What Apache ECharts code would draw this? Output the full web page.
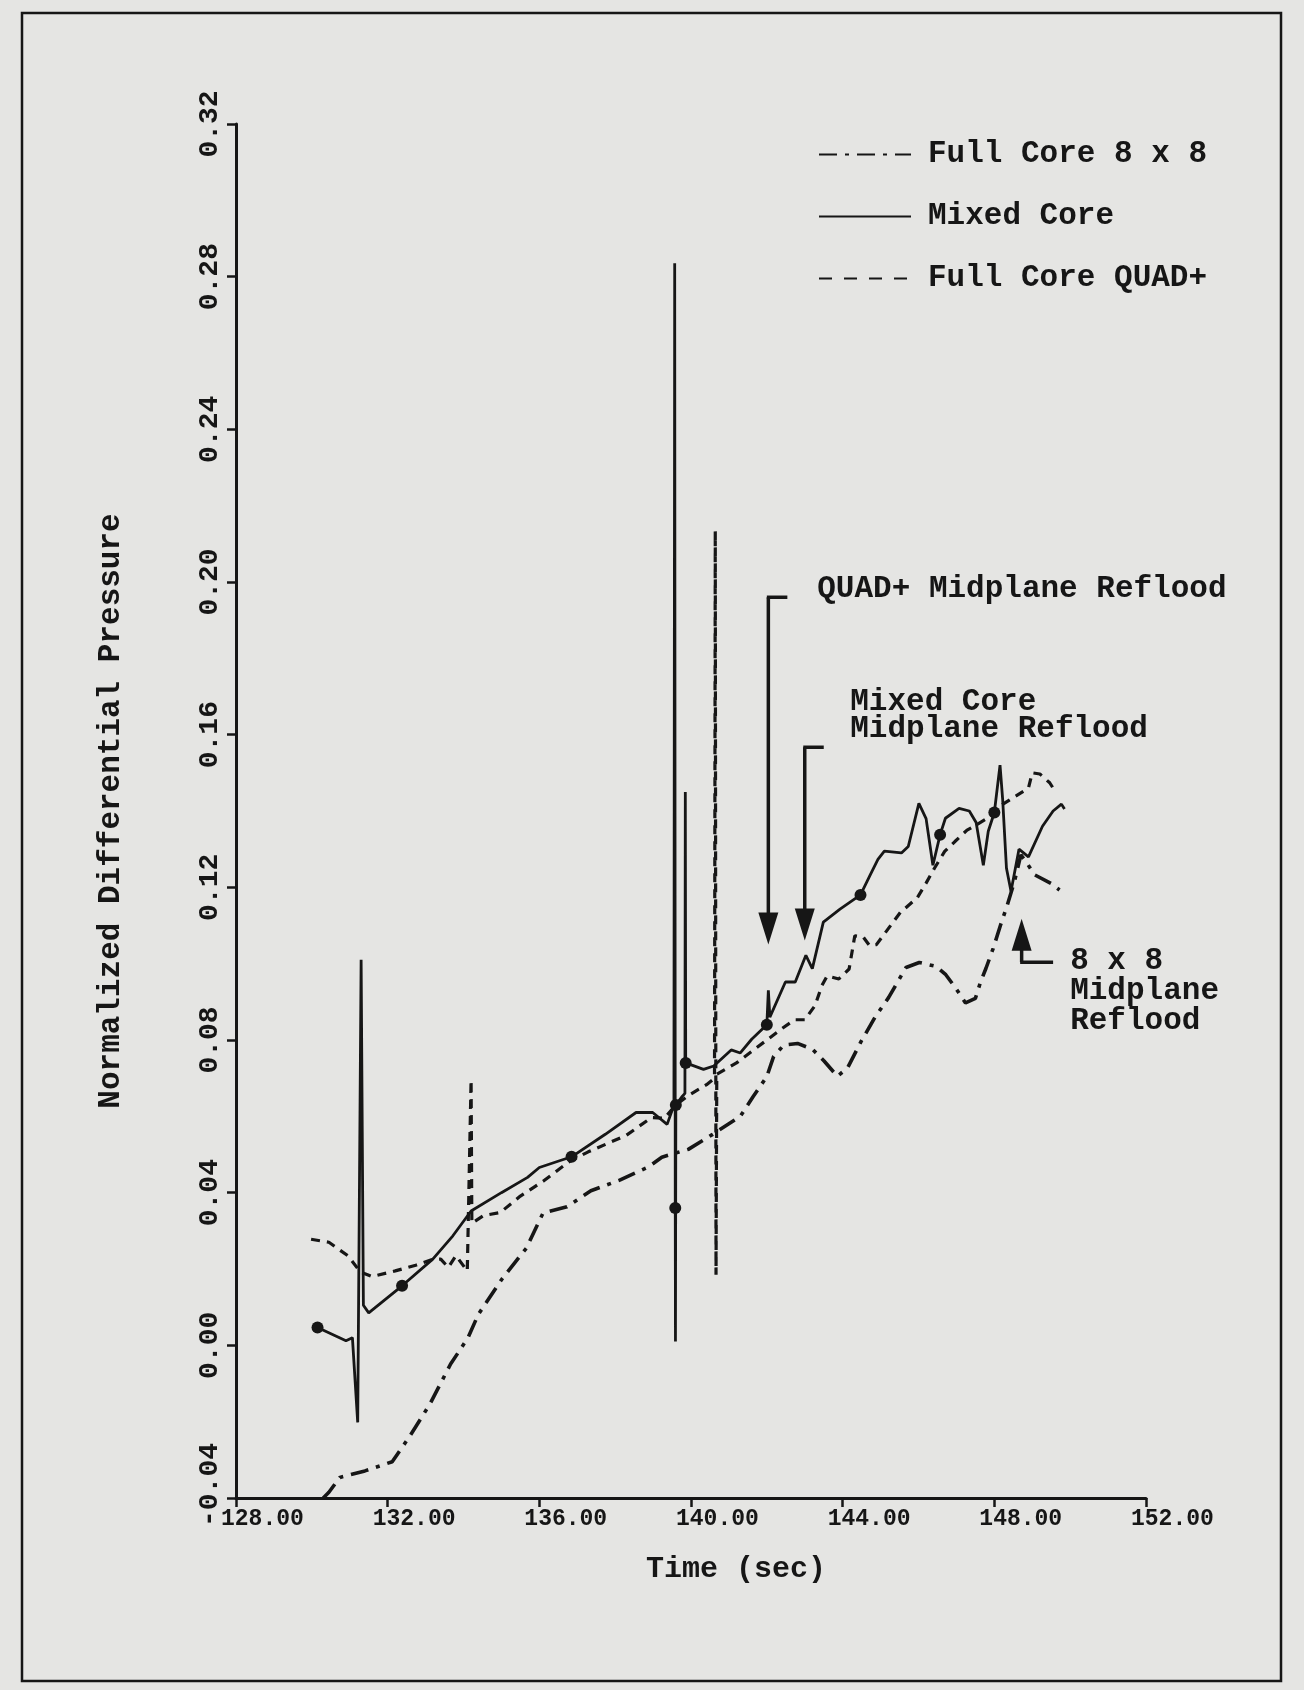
<!DOCTYPE html>
<html>
<head>
<meta charset="utf-8">
<script src="https://cdn.jsdelivr.net/npm/echarts@6/dist/echarts.min.js"></script>
<style>
  html, body { margin: 0; padding: 0; background: #e5e5e3; }
  #chart { width: 1304px; height: 1690px; }
</style>
</head>
<body>
<div id="chart"></div>
<script>
// Axis ticks
const xTicks = [128, 132, 136, 140, 144, 148, 152];
const yTicks = [-0.04, 0.00, 0.04, 0.08, 0.12, 0.16, 0.20, 0.24, 0.28, 0.32];

const seriesNames = ['Full Core 8 x 8', 'Mixed Core', 'Full Core QUAD+'];

// [time (sec), normalized differential pressure]
const fullCore8x8 = [
  [130.30, -0.0400], [130.45, -0.0385], [130.74, -0.0346], [131.40, -0.0329], [132.12, -0.0305],
  [132.57, -0.0240], [133.12, -0.0153], [133.66, -0.0049], [134.12, 0.0020], [134.39, 0.0081],
  [134.60, 0.0112], [135.03, 0.0176], [135.66, 0.0255], [136.10, 0.0347], [136.73, 0.0363],
  [137.36, 0.0405], [138.12, 0.0433], [138.87, 0.0467], [139.23, 0.0493], [139.94, 0.0514],
  [140.56, 0.0552], [141.30, 0.0600], [141.64, 0.0652], [142.00, 0.0704], [142.18, 0.0757],
  [142.45, 0.0787], [142.81, 0.0791], [143.20, 0.0776], [143.51, 0.0745], [143.86, 0.0705],
  [144.13, 0.0727], [144.49, 0.0797], [144.85, 0.0859], [145.21, 0.0911], [145.67, 0.0990],
  [146.02, 0.1003], [146.46, 0.0993], [146.72, 0.0971], [146.98, 0.0936], [147.24, 0.0897],
  [147.50, 0.0909], [147.64, 0.0953], [147.78, 0.0988], [147.97, 0.1040], [148.16, 0.1100],
  [148.34, 0.1153], [148.53, 0.1215], [148.70, 0.1285], [148.85, 0.1265], [149.06, 0.1233],
  [149.50, 0.1210], [149.72, 0.1193]
];

const mixedCore = [
  [130.15, 0.0047], [130.90, 0.0012], [131.07, 0.0020], [131.21, -0.0202], [131.30, 0.1010],
  [131.36, 0.0105], [131.50, 0.0085], [132.38, 0.0156], [133.19, 0.0226], [133.72, 0.0287],
  [134.20, 0.0352], [135.00, 0.0400], [135.69, 0.0440], [136.00, 0.0466], [136.85, 0.0494],
  [137.74, 0.0553], [138.55, 0.0610], [138.99, 0.0610], [139.37, 0.0579], [139.50, 0.0615],
  [139.55, 0.0630], [139.57, 0.2835], [139.585, 0.0360], [139.59, 0.0010], [139.60, 0.0630],
  [139.75, 0.0650], [139.84, 0.0660], [139.85, 0.1450], [139.86, 0.0740], [140.33, 0.0723],
  [140.60, 0.0732], [141.06, 0.0774], [141.30, 0.0766], [141.60, 0.0802], [142.00, 0.0840],
  [142.04, 0.0930], [142.08, 0.0860], [142.49, 0.0952], [142.75, 0.0952], [143.03, 0.1022],
  [143.20, 0.0987], [143.49, 0.1109], [143.93, 0.1143], [144.47, 0.1180], [144.74, 0.1235],
  [144.93, 0.1273], [145.10, 0.1295], [145.55, 0.1290], [145.73, 0.1307], [146.01, 0.1420],
  [146.20, 0.1380], [146.38, 0.1258], [146.57, 0.1338], [146.71, 0.1381], [147.07, 0.1407],
  [147.34, 0.1400], [147.52, 0.1370], [147.71, 0.1258], [147.84, 0.1347], [148.00, 0.1396],
  [148.15, 0.1520], [148.22, 0.1430], [148.32, 0.1250], [148.44, 0.1190], [148.65, 0.1300],
  [148.90, 0.1280], [149.27, 0.1360], [149.55, 0.1400], [149.77, 0.1418], [149.85, 0.1405]
];
// plotted points of the mixed-core trace that carry a dot
const mixedMarkerTimes = [130.15, 132.38, 136.85, 139.585, 139.60, 139.86, 142.00, 144.47, 146.57, 148.00];

const fullCoreQuad = [
  [129.98, 0.0278], [130.45, 0.0270], [130.96, 0.0234], [131.28, 0.0192], [131.59, 0.0180],
  [132.20, 0.0195], [132.74, 0.0210], [133.20, 0.0226], [133.40, 0.0226], [133.60, 0.0204],
  [133.80, 0.0235], [134.10, 0.0195], [134.20, 0.0695], [134.22, 0.0320], [134.53, 0.0340],
  [134.97, 0.0348], [135.50, 0.0391], [136.10, 0.0430], [136.77, 0.0480], [137.29, 0.0507],
  [138.29, 0.0550], [138.96, 0.0597], [139.30, 0.0595], [139.60, 0.0630], [139.97, 0.0657],
  [140.41, 0.0683], [140.62, 0.0700], [140.64, 0.2134], [140.66, 0.0185], [140.68, 0.0710],
  [141.20, 0.0740], [141.60, 0.0770], [142.00, 0.0800], [142.40, 0.0830], [142.73, 0.0853],
  [143.00, 0.0853], [143.27, 0.0890], [143.45, 0.0942], [143.59, 0.0968], [143.90, 0.0960],
  [144.17, 0.0986], [144.32, 0.1073], [144.54, 0.1070], [144.71, 0.1047], [144.89, 0.1050],
  [145.16, 0.1086], [145.52, 0.1134], [145.97, 0.1173], [146.20, 0.1211], [146.42, 0.1250],
  [146.69, 0.1294], [146.96, 0.1320], [147.28, 0.1350], [147.50, 0.1362], [147.80, 0.1380],
  [148.10, 0.1410], [148.48, 0.1434], [148.90, 0.1460], [149.00, 0.1500], [149.20, 0.1497],
  [149.46, 0.1474], [149.55, 0.1460]
];

const FONT = 'Liberation Mono';
const INK = '#161616';
const PAPER = '#e5e5e3';

const chart = echarts.init(document.getElementById('chart'), null, { renderer: 'canvas' });

const mixedData = mixedCore.map(p => (
  mixedMarkerTimes.indexOf(p[0]) >= 0
    ? { value: p, symbol: 'circle', symbolSize: 12, itemStyle: { color: INK } }
    : { value: p }
));

const fmt = v => (Math.abs(v) < 1e-9 ? '0.00' : v.toFixed(2));

chart.setOption({
  backgroundColor: PAPER,
  animation: false,
  grid: { left: 236, right: 158, top: 124, bottom: 192 },
  legend: {
    data: [
      { name: seriesNames[0] },
      { name: seriesNames[1] },
      { name: seriesNames[2], lineStyle: { type: [13, 12] } }
    ],
    orient: 'vertical',
    left: 813,
    top: 134,
    itemWidth: 92,
    itemHeight: 24,
    itemGap: 31,
    selectedMode: false,
    itemStyle: { opacity: 0 },
    textStyle: { fontFamily: FONT, fontWeight: 'bold', fontSize: 31, color: INK, padding: [0, 0, 0, 12] }
  },
  xAxis: {
    type: 'value',
    min: xTicks[0],
    max: xTicks[xTicks.length - 1],
    interval: xTicks[1] - xTicks[0],
    axisLine: { onZero: false, lineStyle: { color: INK, width: 3 } },
    axisTick: { length: 9, lineStyle: { color: INK, width: 2.5 } },
    splitLine: { show: false },
    axisLabel: {
      color: INK, fontFamily: FONT, fontWeight: 'bold', fontSize: 23,
      margin: 10, align: 'left', padding: [0, 0, 0, -15],
      formatter: v => v.toFixed(2)
    },
    name: 'Time (sec)',
    nameLocation: 'middle',
    nameGap: 56,
    nameTextStyle: { color: INK, fontFamily: FONT, fontWeight: 'bold', fontSize: 30, padding: [0, 0, 0, 90] }
  },
  yAxis: {
    type: 'value',
    min: yTicks[0],
    max: yTicks[yTicks.length - 1],
    interval: yTicks[1] - yTicks[0],
    axisLine: { onZero: false, lineStyle: { color: INK, width: 3 } },
    axisTick: { length: 9, lineStyle: { color: INK, width: 2.5 } },
    splitLine: { show: false },
    axisLabel: {
      color: INK, fontFamily: FONT, fontWeight: 'bold', fontSize: 28,
      rotate: 90, margin: 12,
      // the negative label sits a little up from its tick, clear of the time labels
      formatter: v => (v < -1e-9 ? '{neg|' + fmt(v) + '}' : fmt(v)),
      rich: {
        neg: { fontFamily: FONT, fontWeight: 'bold', fontSize: 28, color: INK, padding: [0, 0, 0, 26] }
      }
    },
    name: 'Normalized Differential Pressure',
    nameLocation: 'middle',
    nameRotate: 90,
    nameGap: 109,
    nameTextStyle: { color: INK, fontFamily: FONT, fontWeight: 'bold', fontSize: 31 }
  },
  series: [
    {
      name: seriesNames[0], type: 'line', data: fullCore8x8,
      symbol: 'none', silent: true,
      lineStyle: { color: INK, width: 3.6, type: [18, 8, 4, 8] },
      itemStyle: { color: INK }
    },
    {
      name: seriesNames[1], type: 'line', data: mixedData,
      symbol: 'none', showSymbol: true, silent: true,
      lineStyle: { color: INK, width: 2.8 },
      itemStyle: { color: INK }
    },
    {
      name: seriesNames[2], type: 'line', data: fullCoreQuad,
      symbol: 'none', silent: true,
      lineStyle: { color: INK, width: 3.2, type: [9, 7] },
      itemStyle: { color: INK }
    }
  ]
});

// Reflood annotations, anchored in data space
const px = (t, v) => chart.convertToPixel({ xAxisIndex: 0, yAxisIndex: 0 }, [t, v]);
const HEAD_H = 32, HEAD_W = 20;
const lineEl = (a, b, w) => ({
  type: 'line', z: 50, silent: true,
  shape: { x1: a[0], y1: a[1], x2: b[0], y2: b[1] },
  style: { stroke: INK, lineWidth: w }
});
const headEl = pts => ({ type: 'polygon', z: 50, silent: true, shape: { points: pts }, style: { fill: INK } });
const textEl = (p, text, lh) => ({
  type: 'text', z: 50, silent: true,
  style: {
    text, x: p[0], y: p[1], fill: INK, fontFamily: FONT, fontWeight: 'bold', fontSize: 31,
    align: 'left', verticalAlign: 'top', lineHeight: lh
  }
});

function downArrow(t, vTop, vTip) {
  const top = px(t, vTop), tip = px(t, vTip);
  return [
    lineEl([top[0] - 1.5, top[1]], [top[0] + 19, top[1]], 3.5),
    lineEl(top, [tip[0], tip[1] - HEAD_H + 2], 3.5),
    headEl([[tip[0] - HEAD_W / 2, tip[1] - HEAD_H], [tip[0] + HEAD_W / 2, tip[1] - HEAD_H], tip])
  ];
}

const quadLabel = px(143.33, 0.198);
const mixedLabel = px(144.2, 0.1685);
const eightLabel = px(150.0, 0.1003);
const upTip = px(148.72, 0.1118), upFoot = px(148.72, 0.1004), upEnd = px(149.55, 0.1004);

const graphics = [].concat(
  downArrow(142.04, 0.196, 0.105),
  downArrow(143.00, 0.1567, 0.1061),
  [
    lineEl([upTip[0], upTip[1] + HEAD_H - 2], upFoot, 3.5),
    lineEl([upFoot[0] - 1.5, upFoot[1]], upEnd, 3.5),
    headEl([[upTip[0] - HEAD_W / 2, upTip[1] + HEAD_H], [upTip[0] + HEAD_W / 2, upTip[1] + HEAD_H], upTip]),
    textEl([quadLabel[0], quadLabel[1] - 16], 'QUAD+ Midplane Reflood', 32),
    textEl([mixedLabel[0], mixedLabel[1] - 14], 'Mixed Core\nMidplane Reflood', 27),
    textEl([eightLabel[0], eightLabel[1] - 16], '8 x 8\nMidplane\nReflood', 30),
    {
      type: 'rect', z: 40, silent: true,
      shape: { x: 22, y: 13, width: 1259, height: 1668 },
      style: { fill: 'none', stroke: INK, lineWidth: 2.5 }
    }
  ]
);

chart.setOption({ graphic: graphics });
</script>
</body>
</html>
